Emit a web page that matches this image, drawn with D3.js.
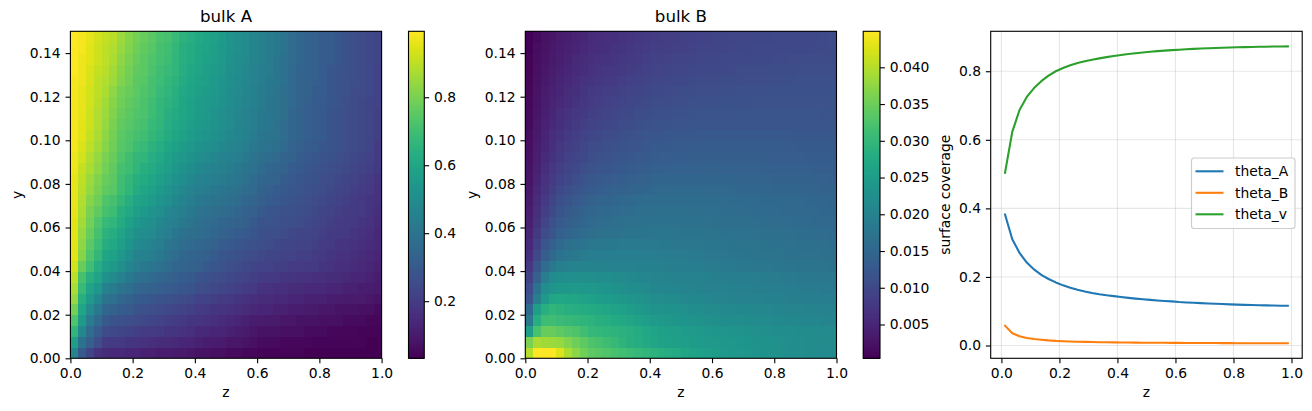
<!DOCTYPE html>
<html><head><meta charset="utf-8">
<script src="https://cdn.jsdelivr.net/npm/d3@7"></script>
<style>
html,body{margin:0;padding:0;background:#fff}
svg{display:block}
text{font-family:"DejaVu Sans",sans-serif;fill:#000}
</style></head><body>
<svg id="fig" width="1312" height="411"></svg>
<script>
// heat-map cells, bottom row first, left column first. Percent of 1.
const bulkA = [
[47,30,23,17,15,14,14,13,13,12,12,11,11,10,10,9,8,8,7,7,6,6,5,5,4,4,4,4,4,4,3,3,3,3,3,3,3,3,3,3],
[57,39,32,26,20,19,19,18,18,17,16,15,15,14,13,13,12,11,11,10,9,9,8,7,6,6,6,5,5,5,5,4,4,4,4,4,4,4,3,3],
[66,48,37,31,25,24,23,22,21,20,20,19,18,18,17,16,14,14,13,13,12,11,10,9,8,8,8,7,7,7,6,6,6,5,5,5,5,4,4,4],
[73,55,43,36,30,28,27,26,25,24,23,22,21,20,19,18,18,17,16,15,14,13,12,11,11,10,10,9,9,8,8,8,7,7,7,6,6,6,5,5],
[79,60,49,42,35,33,31,30,28,27,26,25,24,23,22,21,20,19,18,18,17,16,15,14,13,13,12,12,11,11,10,10,9,9,8,8,8,7,7,6],
[84,64,55,48,40,38,35,33,31,30,29,28,27,26,25,24,22,22,21,20,19,18,17,16,15,15,14,14,13,13,12,12,12,11,11,10,10,10,9,8],
[87,68,59,54,46,43,40,38,35,34,33,32,31,30,29,28,26,25,24,23,22,21,20,19,17,17,16,16,15,15,14,14,14,13,13,12,12,11,11,10],
[90,71,64,59,52,49,46,42,39,38,36,35,33,32,31,30,28,27,26,25,24,23,22,21,20,19,19,18,18,17,17,16,16,15,15,14,13,13,12,11],
[93,77,70,63,57,55,51,47,44,42,41,39,37,35,34,33,32,30,29,28,26,25,24,23,22,22,21,21,20,20,19,19,18,17,16,16,15,14,13,12],
[95,82,73,67,60,58,54,50,46,45,44,42,39,37,35,34,33,32,31,29,28,27,26,25,24,23,23,22,22,21,21,20,19,18,17,17,16,15,14,13],
[95,83,75,69,63,61,57,53,49,48,46,44,41,39,37,36,35,34,33,31,30,29,28,27,26,25,24,23,23,22,22,21,20,19,18,18,17,16,15,14],
[95,84,77,71,65,63,59,55,51,50,49,46,44,41,39,38,37,36,35,33,32,31,30,29,27,26,26,25,24,23,23,22,21,20,19,19,18,17,16,14],
[95,86,79,73,68,66,62,58,54,52,51,48,46,44,42,40,38,37,36,35,34,33,32,30,28,28,27,26,26,25,24,23,22,21,20,19,19,18,17,15],
[96,87,80,76,71,69,64,61,57,55,53,51,48,46,44,42,40,39,38,37,36,35,33,32,30,29,28,27,27,26,25,24,23,22,21,20,20,19,18,16],
[96,88,82,78,73,71,67,63,59,58,56,53,51,48,46,44,42,41,40,39,38,37,35,34,32,31,30,29,28,27,26,25,24,23,22,21,20,19,18,17],
[96,89,84,80,76,74,69,66,62,60,58,55,53,50,48,46,44,43,42,41,40,39,37,36,33,32,31,30,29,28,27,26,25,24,23,22,21,20,19,17],
[96,90,85,81,77,75,70,67,64,62,60,57,55,52,50,48,46,45,44,43,42,41,39,37,35,34,33,31,30,29,28,27,26,25,24,23,22,21,20,18],
[97,91,87,83,79,76,71,69,66,64,62,59,57,54,52,50,48,47,46,45,43,42,40,39,36,35,34,33,31,30,29,28,27,26,25,24,23,22,21,19],
[97,93,88,84,80,77,73,70,67,66,63,61,58,56,54,52,50,49,48,46,45,44,42,40,38,37,36,34,33,31,30,29,28,27,26,25,24,23,22,20],
[98,94,90,86,82,78,74,72,69,68,65,63,60,58,56,54,52,51,50,48,47,46,44,42,40,39,38,36,34,32,31,30,29,28,27,26,25,24,23,20],
[98,95,91,87,83,79,75,73,71,70,67,65,62,60,58,56,54,53,52,50,48,47,45,43,41,40,39,37,35,33,32,31,30,28,27,26,25,24,23,21],
[98,95,92,88,84,80,76,74,72,71,68,66,63,61,59,57,55,54,53,51,49,47,46,44,42,41,39,37,35,33,32,31,30,28,27,26,25,24,23,21],
[98,96,92,88,85,81,77,75,73,72,69,67,64,62,60,58,56,55,53,51,49,48,46,44,42,41,40,38,35,33,32,31,30,28,27,26,25,24,23,21],
[98,96,93,89,86,82,78,76,74,72,70,67,65,63,60,58,56,55,54,52,50,48,47,45,43,41,40,38,36,34,32,31,30,29,28,26,25,24,23,22],
[98,96,93,90,87,83,79,77,75,73,71,68,66,64,61,59,57,56,55,53,50,49,47,45,43,42,40,38,36,34,33,31,31,29,28,27,25,25,24,22],
[98,97,94,90,88,85,81,78,75,74,71,69,67,65,62,60,58,57,55,53,51,49,48,46,44,42,41,39,36,34,33,32,31,29,28,27,26,25,24,22],
[99,97,94,91,89,86,82,79,76,75,72,70,68,66,63,61,59,57,56,54,51,50,48,46,44,43,41,39,36,34,33,32,31,29,28,27,26,25,24,22],
[99,97,95,92,90,87,83,80,77,75,73,71,69,66,64,62,60,58,57,55,52,50,49,47,45,43,41,39,37,35,33,32,31,30,29,27,26,25,24,23],
[99,98,95,92,90,88,84,81,78,76,74,71,70,67,64,62,60,59,57,55,53,51,49,47,45,43,42,40,37,35,33,32,31,30,29,27,26,25,24,23],
[99,98,96,93,91,89,85,82,79,77,75,72,71,68,65,63,61,59,58,56,53,51,49,47,45,43,42,40,37,35,33,32,31,30,29,27,26,25,24,23]
];
// bottom row first, in units of 0.0001
const bulkB = [
[400,448,449,449,425,395,372,352,338,332,326,320,314,308,302,296,290,284,278,272,266,261,256,252,248,245,242,239,236,234,231,229,227,225,223,221,219,217,216,215],
[360,390,385,382,378,365,350,338,325,318,310,302,292,285,279,272,265,261,257,254,251,249,247,245,243,241,239,237,235,233,231,229,227,225,223,221,219,218,216,215],
[250,320,345,345,338,330,325,312,300,297,294,291,288,283,277,270,262,258,254,251,248,246,244,241,238,236,234,232,230,228,226,225,223,222,220,219,218,217,216,215],
[180,280,310,312,306,302,298,294,290,285,280,275,270,265,258,252,246,243,240,237,235,233,231,228,225,223,222,220,219,217,216,215,213,212,211,210,209,208,206,205],
[155,250,285,295,290,285,282,278,275,270,266,260,255,250,245,240,235,232,229,227,225,222,220,218,215,214,213,212,211,210,209,208,207,206,205,204,203,202,201,200],
[120,195,245,265,270,268,265,260,255,250,247,243,240,236,232,227,222,220,218,216,214,212,210,208,205,204,203,202,201,200,199,198,197,196,195,194,193,192,191,190],
[105,170,220,235,240,242,243,242,240,237,234,230,226,223,220,216,212,210,208,207,205,204,203,202,200,199,198,197,196,195,194,193,192,191,190,189,188,187,186,185],
[90,140,190,215,220,224,225,226,225,223,221,218,215,213,211,208,205,204,203,202,201,200,199,197,195,194,193,192,191,190,189,188,187,186,185,184,183,182,181,180],
[75,120,160,183,193,200,202,203,203,203,202,201,200,199,198,197,197,196,195,194,193,192,191,189,187,186,185,184,183,182,181,180,179,178,177,176,175,174,173,172],
[62,100,135,155,170,178,183,187,190,191,192,192,192,192,192,192,191,190,189,188,187,186,185,183,181,180,179,178,177,176,175,174,173,172,171,170,169,168,167,165],
[55,88,120,138,155,165,171,176,180,182,183,184,185,185,185,185,185,184,183,182,181,181,180,179,178,177,176,175,174,173,172,171,170,169,168,167,166,165,164,162],
[48,78,105,122,138,146,153,160,165,168,170,172,174,175,176,177,178,178,177,177,176,175,175,174,173,172,171,170,169,168,167,166,165,164,163,162,161,160,159,157],
[43,70,95,112,127,136,144,151,156,159,162,164,166,168,169,170,172,172,171,171,170,170,169,168,167,166,165,164,164,163,162,161,160,159,158,157,156,155,154,152],
[39,64,87,103,118,127,135,142,149,152,155,158,160,162,163,165,166,166,166,166,165,165,164,163,163,162,161,160,159,158,157,157,156,155,154,153,152,152,151,150],
[35,58,80,95,110,118,126,134,142,145,148,150,153,155,157,159,162,162,162,162,162,162,161,161,160,159,158,157,157,156,155,154,154,153,152,152,151,150,149,148],
[31,53,73,87,100,109,117,124,132,135,138,141,144,146,148,150,153,153,154,154,154,154,154,153,153,152,152,151,151,150,150,149,148,148,147,146,146,145,144,143],
[28,48,67,81,92,101,109,116,124,127,130,133,136,138,140,143,146,147,148,148,148,148,148,148,148,147,147,146,146,146,145,145,144,144,143,142,142,141,140,139],
[25,44,62,75,85,94,102,109,116,119,122,125,128,131,133,135,138,139,140,140,141,141,141,142,142,141,141,141,141,140,140,139,139,138,138,137,137,136,136,135],
[22,41,57,70,80,89,96,103,110,113,116,119,122,125,127,129,132,133,134,134,135,135,136,136,136,136,136,136,135,135,135,134,134,133,133,133,132,132,132,131],
[20,38,52,65,75,83,90,98,105,108,111,114,117,120,122,125,128,129,129,130,130,131,131,132,132,132,132,132,131,131,131,131,130,130,130,129,129,129,128,128],
[18,35,48,60,70,78,85,92,98,102,105,108,111,114,116,119,122,123,124,124,125,125,126,126,127,127,127,127,127,127,126,126,126,126,125,125,125,125,124,124],
[16,32,45,55,65,72,79,86,92,96,99,102,105,108,111,114,116,117,118,119,120,121,122,122,122,122,122,122,122,122,122,122,122,122,122,122,121,121,121,121],
[15,30,41,51,60,67,74,80,87,90,93,97,100,103,106,108,111,112,113,114,115,116,117,117,118,118,118,119,119,119,119,119,119,119,119,119,119,119,118,118],
[13,28,39,48,56,63,69,76,82,85,89,92,95,98,101,104,106,107,108,110,111,112,113,113,114,114,115,115,115,116,116,116,116,116,116,116,116,116,116,116],
[12,26,36,45,52,59,65,72,78,81,84,87,90,93,96,99,102,103,104,106,107,108,109,110,110,111,111,112,112,113,113,113,114,114,114,114,115,115,115,115],
[10,24,33,41,48,55,61,67,73,76,79,82,85,88,91,94,97,99,100,101,103,104,105,106,106,107,107,108,109,109,110,110,111,111,111,112,112,112,113,113],
[9,22,31,38,45,51,57,63,68,71,74,77,80,83,86,89,92,94,95,97,98,100,101,102,102,103,104,105,105,106,106,107,107,108,108,109,109,110,110,110],
[8,20,28,35,42,47,53,59,64,67,70,73,76,79,82,85,88,90,91,93,94,96,97,98,99,100,100,101,102,102,103,103,104,104,105,105,106,106,107,107],
[7,18,26,32,39,44,49,55,60,63,66,69,72,75,78,81,84,86,87,89,90,92,93,94,96,96,97,98,99,100,100,101,101,102,102,103,103,104,104,105],
[6,16,24,30,36,41,46,51,58,61,64,66,69,72,75,78,82,83,85,86,88,89,91,92,95,95,96,97,97,98,99,99,100,100,101,101,102,103,104,105]
];
const zCentres = [.0125,.0375,.0625,.0875,.1125,.1375,.1625,.1875,.2125,.2375,.2625,.2875,.3125,.3375,.3625,.3875,.4125,.4375,.4625,.4875,.5125,.5375,.5625,.5875,.6125,.6375,.6625,.6875,.7125,.7375,.7625,.7875,.8125,.8375,.8625,.8875,.9125,.9375,.9625,.9875];
const thetaA = [.382,.310,.270,.242,.222,.206,.194,.184,.1755,.1685,.1625,.1575,.153,.1495,.1465,.1440,.1415,.1390,.1368,.1349,.1331,.1315,.1300,.1287,.1268,.1257,.1246,.1236,.1227,.1218,.1210,.1201,.1192,.1186,.1180,.1175,.1170,.1166,.1162,.1158];
const thetaB = [.058,.036,.027,.022,.019,.017,.015,.0135,.0125,.0118,.011,.0105,.010,.0097,.0094,.0091,.0089,.0087,.0085,.0083,.0081,.008,.0079,.0078,.0076,.0075,.0074,.0073,.0072,.0071,.007,.0069,.0068,.0068,.0067,.0066,.0066,.0065,.0065,.0064];
const thetaV = [.504,.623,.687,.725,.751,.771,.787,.800,.8095,.8172,.8237,.8290,.8335,.8375,.8412,.8445,.8475,.8502,.8526,.8548,.8568,.8586,.8602,.8616,.8629,.8641,.8652,.8662,.8671,.8679,.8686,.8692,.8698,.8703,.8708,.8712,.8716,.8720,.8723,.8726];
const seriesNames = ["theta_A","theta_B","theta_v"];
const seriesColors = ["#1f77b4","#ff7f0e","#2ca02c"];
const heatXTicks = [0,.2,.4,.6,.8,1];
const heatYTicks = [0,.02,.04,.06,.08,.1,.12,.14];
const barATicks = [.2,.4,.6,.8];
const barBTicks = [.005,.01,.015,.02,.025,.03,.035,.04];
const lineXTicks = [0,.2,.4,.6,.8,1];
const lineYTicks = [0,.2,.4,.6,.8];
const rangeA = [.032,.994], rangeB = [.0004,.0449];

const FS = 13.89, TICK = 4.86, PAD = 4.86, LW = 1.11;
const plotTop = 31.3, plotBottom = 358.3;
const svg = d3.select("#fig");

function styleAxis(g){
  g.selectAll("path.domain").remove();
  g.selectAll(".tick line").attr("stroke","#000").attr("stroke-width",LW);
  g.selectAll(".tick text").attr("font-size",FS).attr("fill","#000")
    .style("font-family",'"DejaVu Sans",sans-serif');
}
function frame(x0,x1,y0,y1){
  svg.append("rect").attr("x",x0).attr("y",y0).attr("width",x1-x0).attr("height",y1-y0)
    .attr("fill","none").attr("stroke","#000").attr("stroke-width",LW);
}
function bottomAxis(scale,ticks,y,fmt){
  svg.append("g").attr("transform",`translate(0,${y})`)
    .call(d3.axisBottom(scale).tickValues(ticks).tickFormat(fmt).tickSize(TICK).tickPadding(PAD))
    .call(styleAxis);
}
function sideAxis(gen,scale,ticks,x,fmt){
  svg.append("g").attr("transform",`translate(${x},0)`)
    .call(gen(scale).tickValues(ticks).tickFormat(fmt).tickSize(TICK).tickPadding(PAD))
    .call(styleAxis);
}
function label(x,y,t,rot,size){
  const s = svg.append("text").attr("font-size",size||FS).attr("text-anchor","middle").text(t);
  if(rot) s.attr("transform",`translate(${x},${y}) rotate(-90)`);
  else s.attr("x",x).attr("y",y);
}

function heat(cfg){
  const x = d3.scaleLinear().domain([0,1]).range([cfg.x0,cfg.x1]);
  const y = d3.scaleLinear().domain([0,.15]).range([plotBottom,plotTop]);
  const color = d3.scaleSequential(d3.interpolateViridis).domain(cfg.range);
  const cells = [];
  cfg.rows.forEach((r,j)=>r.forEach((v,i)=>cells.push({i,j,v:v*cfg.unit})));
  const dz = 1/40, dy = .15/30;
  const cw = x(dz)-x(0), ch = y(0)-y(dy);
  svg.append("g").attr("shape-rendering","crispEdges").selectAll("rect").data(cells).join("rect")
    .attr("x",d=>x(d.i*dz))
    .attr("y",d=>y((d.j+1)*dy))
    .attr("width",d=>d.i===39?cw:cw+.6)
    .attr("height",d=>d.j===0?ch:ch+.6)
    .attr("fill",d=>color(d.v));
  frame(cfg.x0,cfg.x1,plotTop,plotBottom);
  bottomAxis(x,heatXTicks,plotBottom,d3.format(".1f"));
  sideAxis(d3.axisLeft,y,heatYTicks,cfg.x0,d3.format(".2f"));
  label((cfg.x0+cfg.x1)/2,22,cfg.title,false,16.67);
  label((cfg.x0+cfg.x1)/2,397,"z");
  label(cfg.ylabX,194.8,"y",true);
  // colour bar
  const bar = d3.scaleLinear().domain(cfg.range).range([plotBottom,plotTop]);
  const steps = d3.range(256).map(k=>cfg.range[0]+(cfg.range[1]-cfg.range[0])*k/255);
  const h = (plotBottom-plotTop)/255;
  svg.append("g").attr("shape-rendering","crispEdges").selectAll("rect").data(steps.slice(0,255)).join("rect")
    .attr("x",cfg.bx0).attr("width",cfg.bx1-cfg.bx0)
    .attr("y",d=>bar(d)-h)
    .attr("height",h+.6)
    .attr("fill",d=>color(d));
  frame(cfg.bx0,cfg.bx1,plotTop,plotBottom);
  sideAxis(d3.axisRight,bar,cfg.barTicks,cfg.bx1,cfg.barFmt);
}

heat({x0:70.4,x1:381.6,rows:bulkA,unit:.01,range:rangeA,title:"bulk A",ylabX:22,
  bx0:408.5,bx1:424.3,barTicks:barATicks,barFmt:d3.format(".1f")});
heat({x0:525.3,x1:836.5,rows:bulkB,unit:.0001,range:rangeB,title:"bulk B",ylabX:477,
  bx0:863.2,bx1:880,barTicks:barBTicks,barFmt:d3.format(".3f")});

// line panel
const cx0 = 990.7, cx1 = 1302.2;
const lx = d3.scaleLinear().domain([-.0369,1.0369]).range([cx0,cx1]);
const ly = d3.scaleLinear().domain([-.0373,.9165]).range([plotBottom,plotTop]);
const grid = svg.append("g").attr("stroke","#b0b0b0").attr("stroke-opacity",.3).attr("stroke-width",1.11);
grid.selectAll("line.v").data(lineXTicks).join("line").attr("class","v")
  .attr("x1",lx).attr("x2",lx).attr("y1",plotTop).attr("y2",plotBottom);
grid.selectAll("line.h").data(lineYTicks).join("line").attr("class","h")
  .attr("x1",cx0).attr("x2",cx1).attr("y1",ly).attr("y2",ly);
const path = d3.line().x((d,i)=>lx(zCentres[i])).y(d=>ly(d));
[thetaA,thetaB,thetaV].forEach((s,k)=>{
  svg.append("path").datum(s).attr("d",path).attr("fill","none")
    .attr("stroke",seriesColors[k]).attr("stroke-width",2.08)
    .attr("stroke-linecap","square").attr("stroke-linejoin","round");
});
frame(cx0,cx1,plotTop,plotBottom);
bottomAxis(lx,lineXTicks,plotBottom,d3.format(".1f"));
sideAxis(d3.axisLeft,ly,lineYTicks,cx0,d3.format(".1f"));
label((cx0+cx1)/2,397,"z");
label(950,194.8,"surface coverage",true);

// legend
svg.append("rect").attr("x",1191.5).attr("y",158).attr("width",103.5).attr("height",70.5).attr("rx",2.8)
  .attr("fill","#fff").attr("fill-opacity",.8).attr("stroke","#ccc").attr("stroke-width",1.11);
seriesNames.forEach((n,k)=>{
  const y = 171.3 + k*21.5;
  svg.append("line").attr("x1",1195.5).attr("x2",1223.5).attr("y1",y).attr("y2",y)
    .attr("stroke",seriesColors[k]).attr("stroke-width",2.08);
  svg.append("text").attr("x",1235).attr("y",y+4.9).attr("font-size",FS).text(n);
});
</script></body></html>
